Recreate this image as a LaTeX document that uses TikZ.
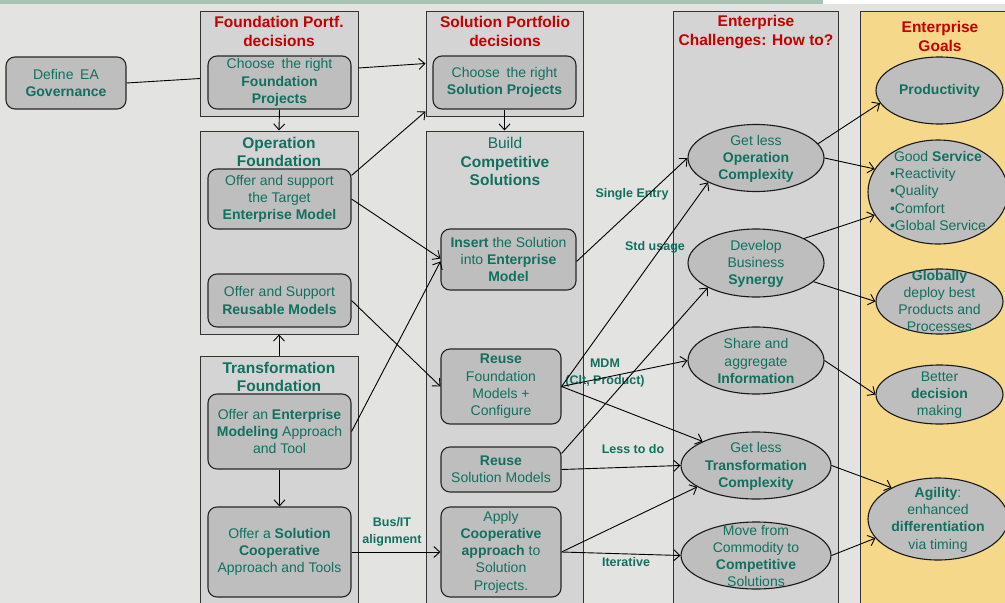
\documentclass[tikz,border=0pt]{standalone}
\usepackage{fontspec}
\setmainfont{Liberation Sans}
\usetikzlibrary{arrows.meta,shapes.geometric}

\definecolor{bgc}{HTML}{E3E3E1}
\definecolor{bandc}{HTML}{A9C3B2}
\definecolor{panelc}{HTML}{D4D4D4}
\definecolor{boxc}{HTML}{BEBEBE}
\definecolor{tealc}{HTML}{11705F}
\definecolor{redc}{HTML}{C40000}
\definecolor{goldc}{HTML}{F5D88A}

\tikzset{
  panel/.style={draw=black!80, fill=panelc, line width=1pt, rectangle, inner sep=0pt},
  txt/.style={text=tealc, align=center, font=\fontsize{14}{17.3}\selectfont, inner sep=0pt},
  box/.style={txt, draw=black!85, fill=boxc, rounded corners=9pt, line width=1.1pt, rectangle},
  oval/.style={ellipse, draw=black!90, fill=boxc, line width=1.1pt, inner sep=0pt},
  ttl/.style={text=redc, align=center, font=\bfseries\fontsize{15.5}{19}\selectfont, inner sep=0pt},
  hd/.style={text=tealc, align=center, font=\bfseries\fontsize{15.5}{18.5}\selectfont, inner sep=0pt},
  lbl/.style={text=tealc, align=center, font=\bfseries\fontsize{12.5}{17}\selectfont, inner sep=0pt},
  arr/.style={-{Straight Barb[length=6pt,width=11pt]}, line width=0.9pt},
  ln/.style={line width=0.9pt}
}

\begin{document}
\begin{tikzpicture}[x=1pt,y=-1pt]
\useasboundingbox (0,0) rectangle (1005,603);
\clip (0,0) rectangle (1005,603);
\fill[bgc] (0,0) rectangle (1005,603);
\fill[bandc] (0,0) rectangle (823,3.5);
\fill[white] (823,0) rectangle (1005,4);

% ---- column panels
\node[panel, minimum width=158pt, minimum height=105pt] (fpd) at (279,63.5) {};
\node[panel, minimum width=158pt, minimum height=203pt] (opf) at (279,232.5) {};
\node[panel, minimum width=158pt, minimum height=254pt] (trf) at (279,483) {};
\node[panel, minimum width=157pt, minimum height=105pt] (spd) at (504.5,63.5) {};
\node[panel, minimum width=157pt, minimum height=479pt] (bcs) at (504.5,370.5) {};
\node[panel, minimum width=165pt, minimum height=599pt] (ech) at (755.5,310.5) {};
\node[panel, fill=goldc, minimum width=160pt, minimum height=599pt] (egl) at (940,310.5) {};

% ---- panel headings
\node[ttl] (fpdt) at (279,31.5) {Foundation Portf.\\decisions};
\node[hd] (opft) at (279,152) {Operation\\Foundation};
\node[hd] (trft) at (279,377) {Transformation\\Foundation};
\node[ttl] (spdt) at (505,31.5) {Solution Portfolio\\decisions};
\node[hd] (bcst) at (505,161.5) {\mdseries Build\\Competitive\\Solutions};
\node[ttl] (echt) at (756,32) {Enterprise\\Challenges: How to?};
\node[ttl] (eglt) at (940,36.5) {Enterprise\\Goals};

% ---- rounded boxes
\node[box, minimum width=120pt, minimum height=52pt] (gov) at (66,83) {Define\hspace{0.2em} EA\\\textbf{Governance}};
\node[box, minimum width=143pt, minimum height=53pt] (cfp) at (279.5,82.5) {Choose\hspace{0.2em} the right\\\textbf{Foundation}\\\textbf{Projects}};
\node[box, minimum width=143pt, minimum height=53pt] (csp) at (504.5,82.5) {Choose\hspace{0.2em} the right\\\textbf{Solution Projects}};
\node[box, minimum width=143pt, minimum height=60pt] (ote) at (279.5,199) {Offer and support\\the Target\\\textbf{Enterprise Model}};
\node[box, minimum width=143pt, minimum height=53pt] (orm) at (279.5,300.5) {Offer and Support\\\textbf{Reusable Models}};
\node[box, minimum width=143pt, minimum height=75pt] (oem) at (279.5,431.5) {Offer an \textbf{Enterprise}\\\textbf{Modeling} Approach\\and Tool};
\node[box, minimum width=143pt, minimum height=90pt] (osc) at (279.5,552) {Offer a \textbf{Solution}\\\textbf{Cooperative}\\Approach and Tools};
\node[box, minimum width=135pt, minimum height=61pt] (ins) at (508.5,259.5) {\textbf{Insert} the Solution\\into \textbf{Enterprise}\\\textbf{Model}};
\node[box, minimum width=120pt, minimum height=75pt] (rfm) at (501,386.5) {\textbf{Reuse}\\Foundation\\Models +\\Configure};
\node[box, minimum width=120pt, minimum height=45pt] (rsm) at (501,469.5) {\textbf{Reuse}\\Solution Models};
\node[box, minimum width=120pt, minimum height=90pt] (aca) at (501,552) {Apply\\\textbf{Cooperative}\\\textbf{approach} to\\Solution\\Projects.};

% ---- challenge ellipses
\node[oval, minimum width=136pt, minimum height=67pt] (oc) at (756,158) {};
\node[txt] (oct) at (756,159) {Get less\\\textbf{Operation}\\\textbf{Complexity}};
\node[oval, minimum width=136pt, minimum height=68pt] (syn) at (756,263) {};
\node[txt] (synt) at (756,264) {Develop\\Business\\\textbf{Synergy}};
\node[oval, minimum width=136pt, minimum height=67pt] (inf) at (756,360.5) {};
\node[txt] (inft) at (756,361) {Share and\\aggregate\\\textbf{Information}};
\node[oval, minimum width=150pt, minimum height=67pt] (tc) at (756,465.5) {};
\node[txt] (tct) at (756,466.5) {Get less\\\textbf{Transformation}\\\textbf{Complexity}};
\node[oval, minimum width=150pt, minimum height=67pt] (mc) at (756,555.5) {};
\node[txt] (mct) at (756,556) {Move from\\Commodity to\\\textbf{Competitive}\\Solutions};

% ---- goal ellipses
\node[oval, minimum width=127pt, minimum height=67pt] (prod) at (939.5,90.5) {};
\node[txt] (prodt) at (939.5,91) {\textbf{Productivity}};
\node[oval, minimum width=140pt, minimum height=104pt] (serv) at (938,192) {};
\node[txt] (servt) at (938,192.5) {\begin{tabular}{@{}l@{}}\multicolumn{1}{@{}c@{}}{Good \textbf{Service}}\\•Reactivity\\•Quality\\•Comfort\\•Global Service\end{tabular}};
\node[oval, minimum width=127pt, minimum height=65pt] (glob) at (939.5,301.5) {};
\node[txt] (globt) at (939.5,301) {\textbf{Globally}\\deploy best\\Products and\\Processes};
\node[oval, minimum width=127pt, minimum height=59pt] (dec) at (939.5,394.5) {};
\node[txt] (dect) at (939.5,395) {Better\\\textbf{decision}\\making};
\node[oval, minimum width=140pt, minimum height=82pt] (agi) at (938,519) {};
\node[txt] (agit) at (938,519.5) {\textbf{Agility}:\\enhanced\\\textbf{differentiation}\\via timing};

% ---- connector labels
\node[lbl] (l1) at (392,531.5) {Bus/IT\\alignment};
\node[lbl] (l2) at (632,194) {Single Entry};
\node[lbl] (l3) at (655,247) {Std usage};
\node[lbl] (l4) at (605,372.5) {MDM\\(Clt, Product)};
\node[lbl] (l5) at (633,449) {Less to do};
\node[lbl] (l6) at (626,562) {Iterative};

% ---- connectors on the left side
\coordinate (govin) at (200,78.5);
\draw[ln] (gov.east) -- (govin);
\draw[arr] ([yshift=-4.5pt]fpd.east) -- (spd.west);
\draw[arr] (cfp.south) -- (opf.north);
\draw[arr] (trf.north) -- (opf.south);
\draw[arr] (oem.south) -- (osc.north);
\draw[arr] (csp.south) -- (bcs.north);
\draw[arr] ([yshift=-7pt]ote.north east) -- ([yshift=5pt]spd.south west);
\draw[arr] (ote.east) -- ([yshift=1pt]ins.west);
\draw[arr] (oem.east) -- ([yshift=-2pt]ins.west);
\draw[arr] (orm.east) -- (rfm.west);
\draw[arr] (osc.east) -- (aca.west);

% ---- solutions to challenges
\draw[arr] ([yshift=-2pt]ins.east) -- (oc.west);
\draw[arr] (rfm.east) -- (oc.207);
\draw[arr] (rfm.east) -- (inf.west);
\draw[arr] (rfm.east) -- (tc.north west);
\draw[arr] ([yshift=16pt]rsm.east) -- (syn.207);
\draw[arr] (rsm.east) -- (tc.west);
\draw[arr] (aca.east) -- (tc.200);
\draw[arr] (aca.east) -- (mc.west);

% ---- challenges to goals
\draw[arr] (oc.13) -- (prod.192);
\draw[arr] (oc.east) -- (serv.160);
\draw[arr] (syn.27) -- (serv.200);
\draw[arr] (syn.342) -- (glob.west);
\draw[arr] (inf.east) -- (dec.west);
\draw[arr] (tc.east) -- (agi.146);
\draw[arr] (mc.east) -- (agi.197);
\end{tikzpicture}
\end{document}
